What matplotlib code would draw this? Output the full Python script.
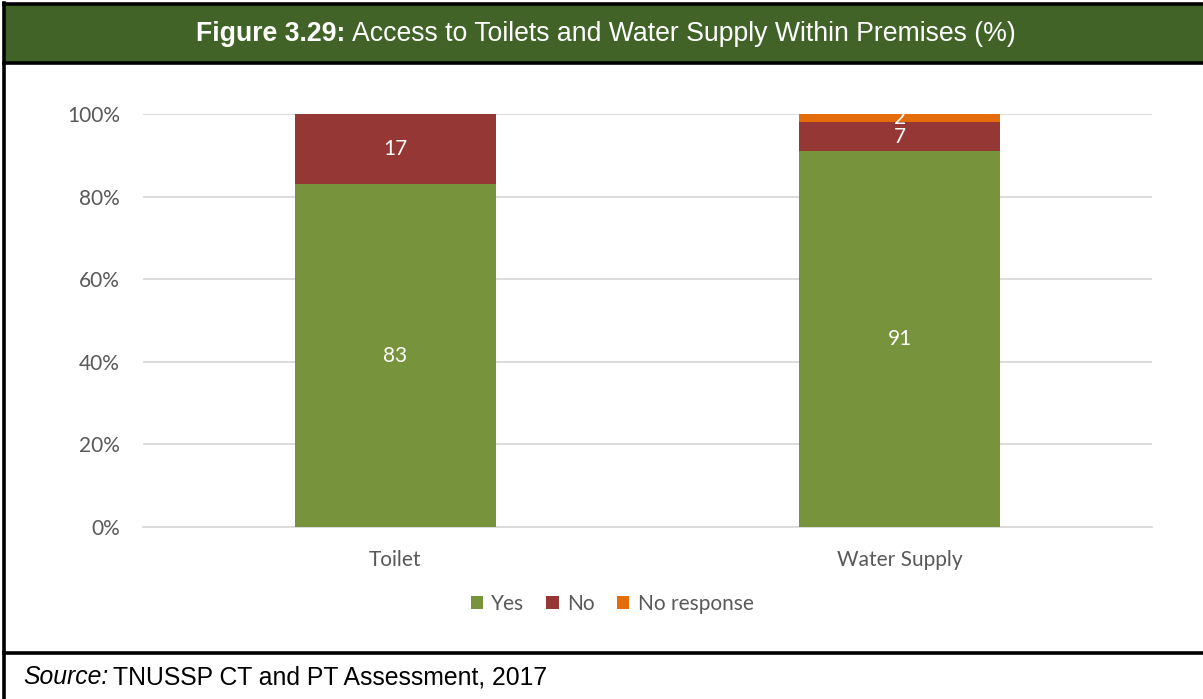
import matplotlib
matplotlib.use("Agg")
import matplotlib.pyplot as plt
from matplotlib.patches import Rectangle
from matplotlib.lines import Line2D
from matplotlib.ticker import FuncFormatter
import numpy as np

categories = ["Toilet", "Water Supply"]
series_names = ["Yes", "No", "No response"]
yes_vals = [83, 91]
no_vals = [17, 7]
noresp_vals = [0, 2]
yticks = [0, 20, 40, 60, 80, 100]

colors = ["#77933C", "#953735", "#E46C0A"]
header_green = "#426328"
gray_text = "#595959"
font_chart = ["Lato", "DejaVu Sans"]
font_frame = ["Liberation Sans", "DejaVu Sans"]
chart_fs = 15

W, H = 1203, 699
fig = plt.figure(figsize=(W / 100, H / 100), dpi=100)

# Frame: header band, borders, source line
frame = fig.add_axes([0, 0, 1, 1])
frame.set_xlim(0, W)
frame.set_ylim(H, 0)
frame.axis("off")
frame.add_patch(Rectangle((4, 4), W - 4, 59, facecolor=header_green, edgecolor="none"))
lw = 2.6
frame.add_line(Line2D([4, W], [4, 4], color="black", lw=lw))
frame.add_line(Line2D([4, W], [63, 63], color="black", lw=lw))
frame.add_line(Line2D([4, W], [653, 653], color="black", lw=lw))
frame.add_line(Line2D([4, 4], [3, H], color="black", lw=lw))

# Title: bold figure number followed by regular text, centred as one line
title_fs = 19.2
t1 = frame.text(0, 34, "Figure 3.29:", color="white", fontsize=title_fs,
                fontweight="bold", family=font_frame, va="center", ha="left")
t2 = frame.text(0, 34, "Access to Toilets and Water Supply Within Premises (%)",
                color="white", fontsize=title_fs, family=font_frame, va="center", ha="left")
fig.canvas.draw()
w1 = t1.get_window_extent().width
w2 = t2.get_window_extent().width
gap = 6
x0 = 606 - (w1 + gap + w2) / 2
t1.set_x(x0)
t2.set_x(x0 + w1 + gap)

src_fs = 17.8
s1 = frame.text(23, 677, "Source:", fontsize=src_fs, style="italic", family=font_frame,
                va="center", ha="left", color="black")
fig.canvas.draw()
sw = s1.get_window_extent().width
frame.text(23 + sw + 5, 677, "TNUSSP CT and PT Assessment, 2017", fontsize=src_fs,
           family=font_frame, va="center", ha="left", color="black")

# Chart
ax = fig.add_axes([143 / W, 1 - 527 / H, (1152 - 143) / W, (527 - 114) / H])
x = np.arange(len(categories))
width = 0.399
b1 = ax.bar(x, yes_vals, width, color=colors[0], label=series_names[0], zorder=3)
b2 = ax.bar(x, no_vals, width, bottom=yes_vals, color=colors[1], label=series_names[1], zorder=3)
bottom3 = np.array(yes_vals) + np.array(no_vals)
b3 = ax.bar(x, noresp_vals, width, bottom=bottom3, color=colors[2], label=series_names[2], zorder=3)

for bars, vals, bottoms in [(b1, yes_vals, [0, 0]), (b2, no_vals, yes_vals), (b3, noresp_vals, bottom3)]:
    for rect, v, b in zip(bars, vals, bottoms):
        if v > 0:
            ax.text(rect.get_x() + rect.get_width() / 2, b + v / 2, f"{v}",
                    ha="center", va="center", color="white", fontsize=chart_fs,
                    family=font_chart, zorder=4)

ax.set_xlim(-0.5, 1.5)
ax.set_ylim(0, 100)
ax.set_yticks(yticks)
ax.yaxis.set_major_formatter(FuncFormatter(lambda v, p: f"{int(v)}%"))
ax.set_xticks(x)
ax.set_xticklabels(categories)
ax.tick_params(axis="both", length=0, colors=gray_text, labelsize=chart_fs)
ax.tick_params(axis="y", pad=16.5)
ax.tick_params(axis="x", pad=16.5)
for lab in ax.get_xticklabels() + ax.get_yticklabels():
    lab.set_family(font_chart)
ax.grid(axis="y", color="#D9D9D9", lw=1.3, zorder=0)
for s in ["top", "right", "left"]:
    ax.spines[s].set_visible(False)
ax.spines["bottom"].set_color("#D9D9D9")
ax.spines["bottom"].set_linewidth(1.3)

leg = fig.legend(handles=[b1, b2, b3], labels=series_names, loc="center",
                 bbox_to_anchor=(612 / W, 1 - 604 / H), ncol=3, frameon=False,
                 prop={"family": font_chart, "size": chart_fs}, handlelength=0.6,
                 handleheight=0.6, handletextpad=0.4, columnspacing=1.05)
for t in leg.get_texts():
    t.set_color(gray_text)

fig.savefig("out.png", dpi=100)
